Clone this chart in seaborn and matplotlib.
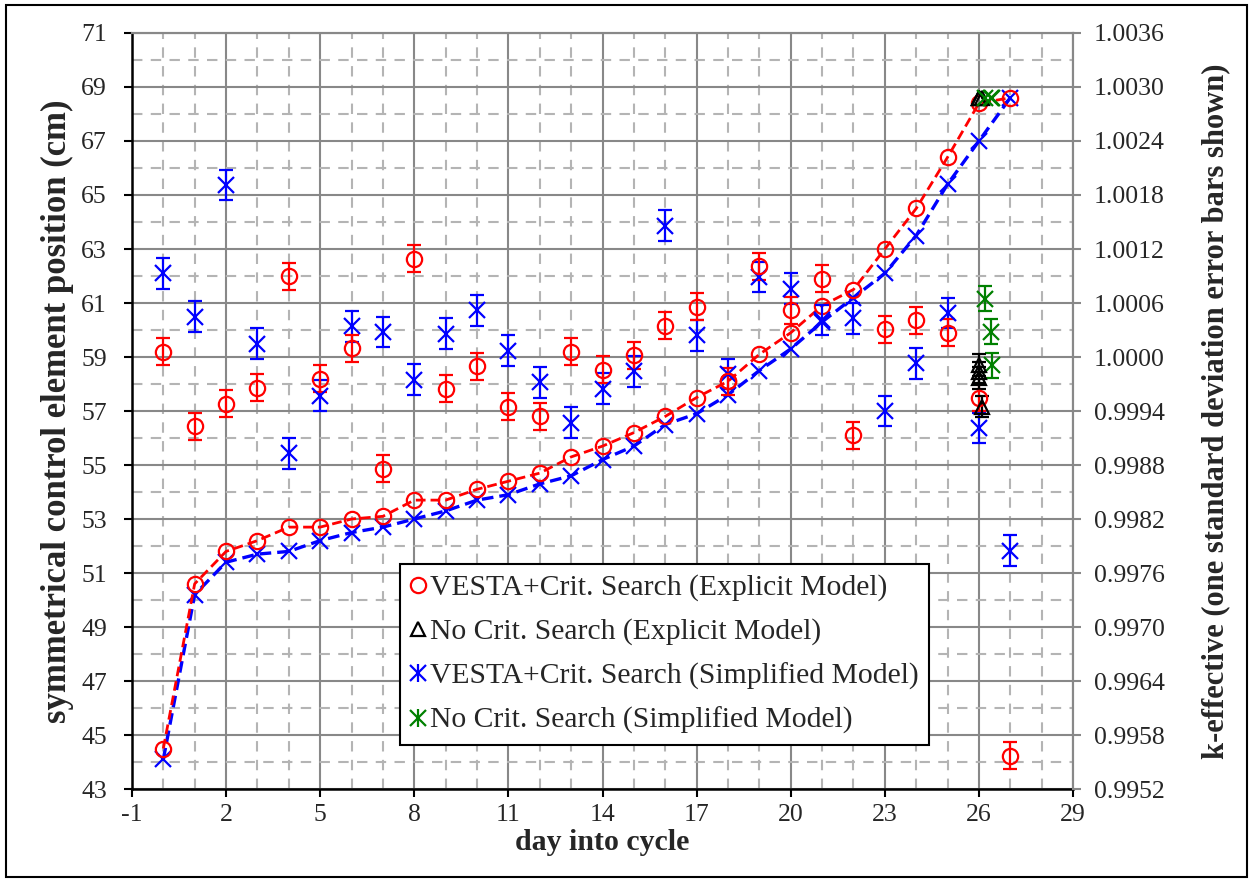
import numpy as np
import pandas as pd
import matplotlib
matplotlib.use("Agg")
import matplotlib.pyplot as plt
from matplotlib.lines import Line2D
from matplotlib.patches import Rectangle
from matplotlib.ticker import FormatStrFormatter
from matplotlib.legend_handler import HandlerTuple
import seaborn as sns

# ---- data -------------------------------------------------------------
days = list(range(0, 28))

# control element position found by the critical search (cm)
pos_explicit = [44.5, 50.6, 51.8, 52.2, 52.7, 52.7, 53.0, 53.1, 53.7, 53.7,
                54.1, 54.4, 54.7, 55.3, 55.7, 56.2, 56.8, 57.5, 58.1, 59.1,
                59.9, 60.9, 61.5, 63.0, 64.5, 66.4, 68.4, 68.6]
pos_simplified = [44.1, 50.2, 51.4, 51.7, 51.8, 52.2, 52.5, 52.7, 53.0, 53.3,
                  53.7, 53.9, 54.3, 54.6, 55.2, 55.7, 56.5, 56.9, 57.6, 58.5,
                  59.3, 60.3, 61.2, 62.1, 63.5, 65.4, 67.0, 68.6]

# k-effective at each step
k_explicit = [1.00006, 0.99923, 0.99948, 0.99966, 1.00090, 0.99976, 1.00010,
              0.99876, 1.00109, 0.99965, 0.99990, 0.99945, 0.99934, 1.00006,
              0.99986, 1.00002, 1.00035, 1.00056, 0.99973, 1.00101, 1.00052,
              1.00087, 0.99913, 1.00031, 1.00041, 1.00027, 0.99955, 0.99557]
k_simplified = [1.00093, 1.00045, 1.00191, 1.00015, 0.99893, 0.99957, 1.00034,
                1.00028, 0.99975, 1.00026, 1.00052, 1.00007, 0.99972, 0.99927,
                0.99965, 0.99984, 1.00146, 1.00024, 0.99981, 1.00089, 1.00076,
                1.00041, 1.00043, 0.99940, 0.99993, 1.00049, 0.99921, 0.99785]
sd_explicit = 0.00015
sd_simplified = 0.00017

# runs without critical search near end of cycle
nocrit_exp_days = [26.0, 26.0, 26.0, 26.1]
nocrit_exp_pos = [68.6, 68.6, 68.6, 68.6]
nocrit_exp_k = [0.99991, 0.99983, 0.99977, 0.99945]
nocrit_exp_sd = 0.00012

nocrit_simp_days = [26.2, 26.38, 26.42]
nocrit_simp_pos = [68.6, 68.6, 68.6]
nocrit_simp_k = [1.00065, 1.00028, 0.99991]
nocrit_simp_sd = 0.00014

x_ticks = list(range(-1, 30, 3))
y_ticks = list(range(43, 72, 2))
k_ticks = [0.9952, 0.9958, 0.9964, 0.9970, 0.9976, 0.9982, 0.9988, 0.9994,
           1.0000, 1.0006, 1.0012, 1.0018, 1.0024, 1.0030, 1.0036]

labels = ["VESTA+Crit. Search (Explicit Model)",
          "No Crit. Search (Explicit Model)",
          "VESTA+Crit. Search (Simplified Model)",
          "No Crit. Search (Simplified Model)"]

RED, BLUE, GREEN, BLACK = "#ff0000", "#0000ff", "#008000", "#000000"

# ---- style ------------------------------------------------------------
sns.set_theme(style="white")
plt.rcParams["font.family"] = ["Liberation Serif", "DejaVu Serif"]
plt.rcParams["axes.unicode_minus"] = False
FS = 18.5     # tick labels
FX = 21.5     # x-axis title
FY = 25       # left axis title
FR = 22       # right axis title
FLEG = 21.3   # legend

fig = plt.figure(figsize=(12.53, 8.82), dpi=100)
fig.subplots_adjust(left=0.1053, right=0.8564, bottom=0.1054, top=0.9626)
ax = fig.add_subplot(111)
ax2 = ax.twinx()

# outer frame around the whole figure
fig.patches.append(Rectangle((6 / 1253, 5 / 882), 1 - 12 / 1253, 1 - 10 / 882,
                             transform=fig.transFigure, fill=False,
                             edgecolor="black", lw=1.5, zorder=-1))

# ---- position curves (left axis) --------------------------------------
df = pd.DataFrame({"day": days, "explicit": pos_explicit,
                   "simplified": pos_simplified})
sns.lineplot(data=df, x="day", y="simplified", ax=ax, color=BLUE,
             linestyle=(0, (3.5, 1.8)), linewidth=2.4, marker="x",
             markersize=11, markeredgewidth=1.6, markeredgecolor=BLUE,
             zorder=3)
sns.lineplot(data=df, x="day", y="explicit", ax=ax, color=RED,
             linestyle=(0, (3.5, 1.8)), linewidth=2.0, marker="o",
             markersize=11, markerfacecolor="none", markeredgecolor=RED,
             markeredgewidth=1.6, zorder=4)
ax.plot(nocrit_exp_days, nocrit_exp_pos, ls="none", marker="^", ms=10,
        mfc="none", mec=BLACK, mew=1.6, zorder=5)
ax.plot(nocrit_simp_days, nocrit_simp_pos, ls="none", marker="x", ms=11,
        mec=GREEN, mew=1.6, zorder=5)

# ---- k-effective with error bars (right axis) -------------------------
err_kw = dict(ls="none", elinewidth=1.6, capsize=5, capthick=1.6, mew=1.6)
ax2.errorbar(days, k_simplified, yerr=sd_simplified, marker="x", ms=11,
             color=BLUE, **err_kw)
ax2.errorbar(days, k_explicit, yerr=sd_explicit, marker="o", ms=11,
             color=RED, mfc="none", **err_kw)
ax2.errorbar(nocrit_simp_days, nocrit_simp_k, yerr=nocrit_simp_sd,
             marker="x", ms=11, color=GREEN, **err_kw)
ax2.errorbar(nocrit_exp_days, nocrit_exp_k, yerr=nocrit_exp_sd, marker="^",
             ms=10, color=BLACK, mfc="none", **err_kw)

# ---- grid & axes ------------------------------------------------------
ax.set_xlim(-1, 29)
ax.set_ylim(43, 71)
ax2.set_ylim(0.9952, 1.0036)
ax.set_xticks(x_ticks)
ax.set_xticks(range(-1, 30), minor=True)
ax.set_yticks(y_ticks)
ax.set_yticks(range(43, 72), minor=True)
ax2.set_yticks(k_ticks)
ax2.yaxis.set_major_formatter(FormatStrFormatter("%.4f"))

ax.set_axisbelow(True)
ax.grid(which="major", color="#888888", lw=1.5, ls="-")
ax.grid(which="minor", color="#b4b4b4", lw=1.5, ls=(0, (5, 4)))

for s in ["left", "bottom"]:
    ax.spines[s].set_color("black")
    ax.spines[s].set_linewidth(1.8)
for a in (ax, ax2):
    a.spines["top"].set_color("#888888")
    a.spines["top"].set_linewidth(1.5)
    a.spines["right"].set_color("#888888")
    a.spines["right"].set_linewidth(1.5)
ax2.spines["left"].set_visible(False)
ax2.spines["bottom"].set_visible(False)

ax.tick_params(axis="both", which="major", direction="out", length=6,
               width=1.5, color="black", labelsize=FS,
               left=True, bottom=True)
ax.tick_params(axis="y", which="major", pad=12)
ax.tick_params(axis="x", which="major", pad=5)
ax.tick_params(which="minor", length=0)
ax2.tick_params(axis="y", which="major", direction="out", length=6, width=1.5,
                color="#888888", labelsize=FS, pad=9, right=True)

ax.set_xlabel("day into cycle", fontsize=FX, fontweight="bold", labelpad=2)
ax.set_ylabel("symmetrical control element position (cm)", fontsize=FY,
              fontweight="bold", labelpad=5)
ax2.set_ylabel("k-effective (one standard deviation error bars shown)",
               fontsize=FR, fontweight="bold", labelpad=26)

# ---- legend -----------------------------------------------------------
h_red = Line2D([], [], ls="none", marker="o", ms=11, mfc="none", mec=RED,
               mew=1.6)
h_blk = Line2D([], [], ls="none", marker="^", ms=10, mfc="none", mec=BLACK,
               mew=1.6)
h_blu = (Line2D([], [], ls="none", marker="x", ms=11, mec=BLUE, mew=1.6),
         Line2D([], [], ls="none", marker="|", ms=13, mec=BLUE, mew=1.6))
h_grn = (Line2D([], [], ls="none", marker="x", ms=11, mec=GREEN, mew=1.6),
         Line2D([], [], ls="none", marker="|", ms=13, mec=GREEN, mew=1.6))
leg = ax2.legend([h_red, h_blk, h_blu, h_grn], labels,
                 handler_map={tuple: HandlerTuple(ndivide=1)},
                 loc="lower left", bbox_to_anchor=(400 / 1253, 137 / 882),
                 bbox_transform=fig.transFigure, fontsize=FLEG,
                 frameon=True, fancybox=False, framealpha=1,
                 edgecolor="black", borderpad=0.36, labelspacing=0.58,
                 handlelength=0.5, handletextpad=0.15, borderaxespad=0)
leg.get_frame().set_linewidth(1.5)

fig.savefig("out.png", dpi=100)
